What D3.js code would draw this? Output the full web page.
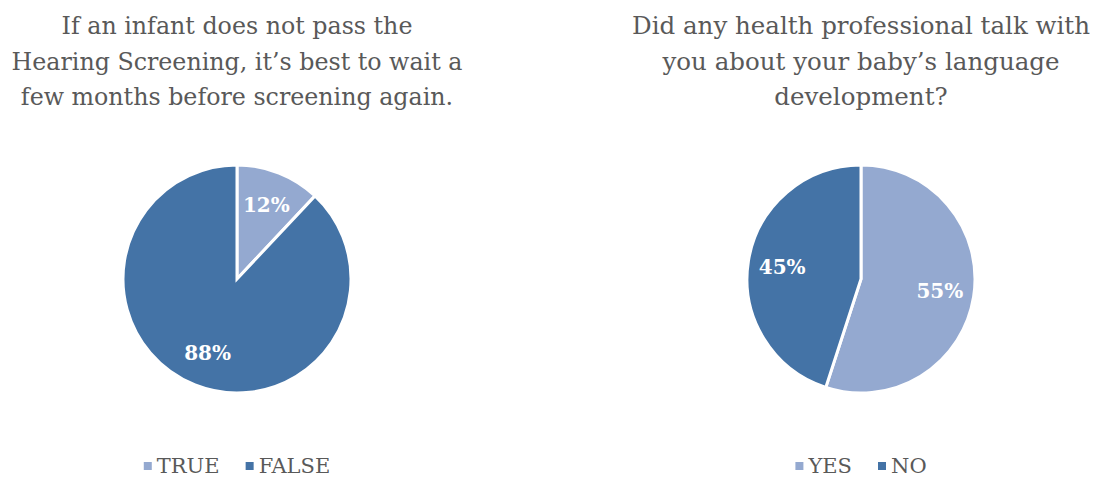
<!DOCTYPE html>
<html>
<head>
<meta charset="utf-8">
<script src="https://cdn.jsdelivr.net/npm/d3@7"></script>
<style>
  body { margin: 0; background: #fff; }
  svg { display: block; }
</style>
</head>
<body>
<svg width="1093" height="477"></svg>
<script>
// chart data
const leftTitle = ["If an infant does not pass the", "Hearing Screening, it\u2019s best to wait a", "few months before screening again."];
const leftCategories = ["TRUE", "FALSE"];
const leftValues = [12, 88];

const rightTitle = ["Did any health professional talk with", "you about your baby\u2019s language", "development?"];
const rightCategories = ["YES", "NO"];
const rightValues = [55, 45];

const colors = ["#94a9d0", "#4473a6"];
const font = "'DejaVu Serif', 'Liberation Serif', serif";

const svg = d3.select("svg");

function drawPie(cx, title, titleWidth, categories, values) {
    const g = svg.append("g");

    // title, scaled so the widest line fits the target width
    const t = g.append("text")
        .attr("text-anchor", "middle")
        .attr("fill", "#595959")
        .style("font-family", font)
        .style("font-size", "24px");
    t.selectAll("tspan")
        .data(title)
        .enter().append("tspan")
            .attr("x", cx)
            .attr("y", (d, i) => 34 + i * 35.5)
            .text(d => d);
    const widest = d3.max(t.selectAll("tspan").nodes(), n => n.getComputedTextLength());
    t.style("font-size", (24 * titleWidth / widest) + "px");

    const radius = 114;
    const pie = d3.pie().sort(null).value(d => d);
    const arc = d3.arc().innerRadius(0).outerRadius(radius);
    const labelArc = d3.arc().innerRadius(radius * 0.7).outerRadius(radius * 0.7);
    const color = d3.scaleOrdinal().domain(categories).range(colors);

    const pg = g.append("g")
        .attr("transform", "translate(" + cx + ",279)");
    const arcs = pie(values);

    pg.selectAll("path")
        .data(arcs)
        .enter().append("path")
            .attr("d", arc)
            .attr("fill", (d, i) => color(categories[i]))
            .attr("stroke", "#fff")
            .attr("stroke-width", 3)
            .attr("stroke-linejoin", "miter");

    pg.selectAll(".label")
        .data(arcs)
        .enter().append("text")
            .attr("class", "label")
            .attr("transform", d => "translate(" + labelArc.centroid(d) + ")")
            .attr("text-anchor", "middle")
            .attr("dy", "0.35em")
            .attr("fill", "#fff")
            .style("font-family", font)
            .style("font-weight", "bold")
            .style("font-size", "20px")
            .text(d => d.data + "%");

    // legend, centred under the pie
    const lg = g.append("g");
    const items = lg.selectAll("g")
        .data(categories)
        .enter().append("g");
    items.append("rect")
        .attr("width", 8)
        .attr("height", 8)
        .attr("y", -4)
        .attr("fill", d => color(d));
    items.append("text")
        .attr("x", 13)
        .attr("dy", "0.35em")
        .attr("fill", "#595959")
        .style("font-family", font)
        .style("font-size", "21px")
        .text(d => d);
    let x = 0;
    items.each(function() {
        d3.select(this).attr("transform", "translate(" + x + ",0)");
        x += this.getBBox().width + 26;
    });
    x -= 26;
    lg.attr("transform", "translate(" + (cx - x / 2) + ",466)");
}

drawPie(237, leftTitle, 451, leftCategories, leftValues);
drawPie(861, rightTitle, 458, rightCategories, rightValues);
</script>
</body>
</html>
